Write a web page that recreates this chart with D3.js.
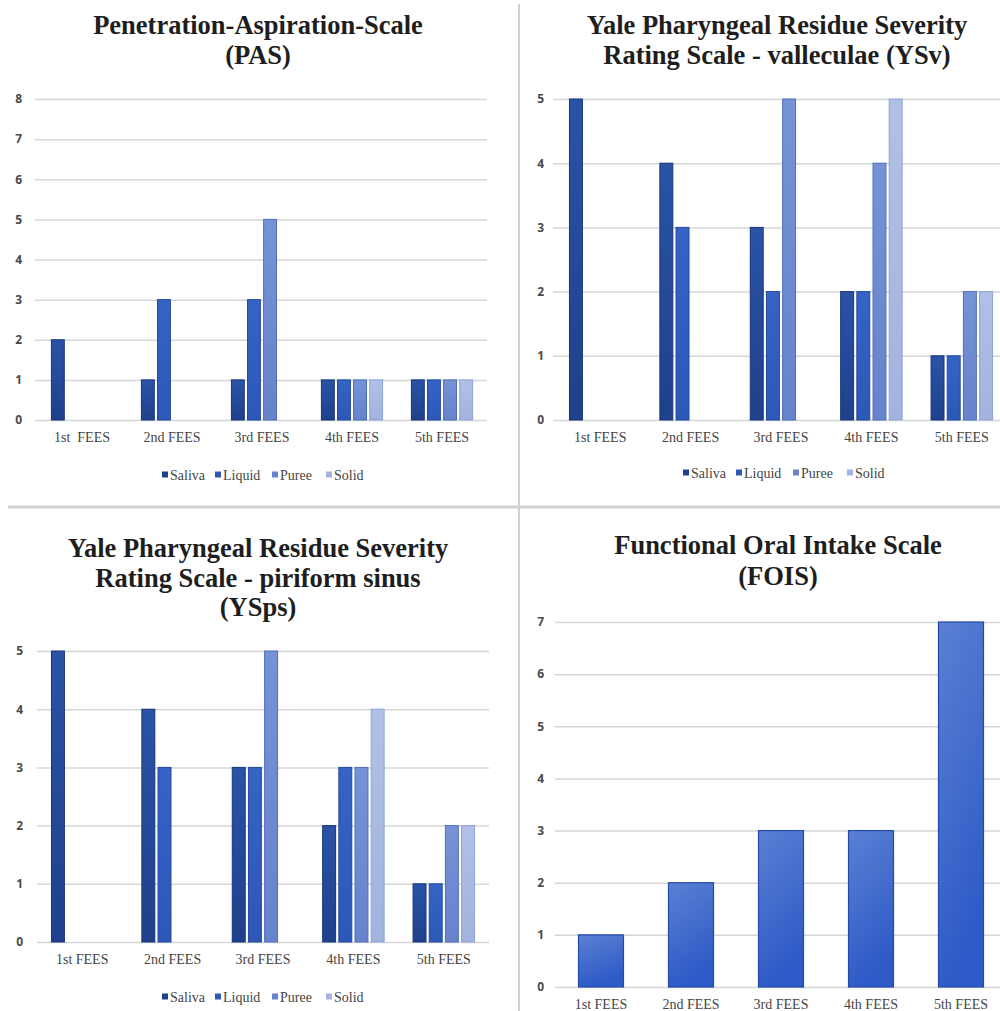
<!DOCTYPE html>
<html>
<head>
<meta charset="utf-8">
<script src="https://cdn.jsdelivr.net/npm/d3@7/dist/d3.min.js"></script>
<style>
  body { margin: 0; background: #fff; }
  svg { display: block; }
  .title { font-family: "Liberation Serif", "Times New Roman", serif; font-weight: bold; font-size: 26.5px; fill: #1e1e1e; }
  .ytick text { font-family: "Open Sans", sans-serif; font-weight: 700; font-size: 12px; fill: #4a4a4a; }
  .cat { font-family: "Liberation Serif", serif; font-size: 14px; fill: #444; }
  .leg { font-family: "Liberation Serif", serif; font-size: 14px; fill: #444; }
</style>
</head>
<body>
<div id="chart"></div>
<script>
//
// data
//
var categories = ["1st FEES", "2nd FEES", "3rd FEES", "4th FEES", "5th FEES"];
var series = ["Saliva", "Liquid", "Puree", "Solid"];

var pasSaliva = [2, 1, 1, 1, 1];
var pasLiquid = [0, 3, 3, 1, 1];
var pasPuree  = [0, 0, 5, 1, 1];
var pasSolid  = [0, 0, 0, 1, 1];

var ysvSaliva = [5, 4, 3, 2, 1];
var ysvLiquid = [0, 3, 2, 2, 1];
var ysvPuree  = [0, 0, 5, 4, 2];
var ysvSolid  = [0, 0, 0, 5, 2];

var yspsSaliva = [5, 4, 3, 2, 1];
var yspsLiquid = [0, 3, 3, 3, 1];
var yspsPuree  = [0, 0, 5, 3, 2];
var yspsSolid  = [0, 0, 0, 4, 2];

var foisValues = [1, 2, 3, 3, 7];

var pasTicks = [0, 1, 2, 3, 4, 5, 6, 7, 8];
var ysTicks = [0, 1, 2, 3, 4, 5];
var foisTicks = [0, 1, 2, 3, 4, 5, 6, 7];

// series colours: [top, bottom, edge]
var colors = {
  Saliva: ["#2a52a6", "#1f418c", "#17357a"],
  Liquid: ["#3664c4", "#2c58b8", "#2148a2"],
  Puree:  ["#7693d6", "#6683cc", "#4e6ebd"],
  Solid:  ["#b0c0e6", "#a2b3df", "#8ea3d6"]
};

var W = 1000, H = 1011;

var svg = d3.select("#chart").append("svg")
  .attr("width", W)
  .attr("height", H);

var defs = svg.append("defs");

series.forEach(function(s) {
  var g = defs.append("linearGradient").attr("id", "g-" + s)
    .attr("x1", 0).attr("y1", 0).attr("x2", 0).attr("y2", 1);
  g.append("stop").attr("offset", "0%").attr("stop-color", colors[s][0]);
  g.append("stop").attr("offset", "100%").attr("stop-color", colors[s][1]);
});
var fg = defs.append("linearGradient").attr("id", "g-fois")
  .attr("x1", 0).attr("y1", 0).attr("x2", 0.3).attr("y2", 1);
fg.append("stop").attr("offset", "0%").attr("stop-color", "#5b80d3");
fg.append("stop").attr("offset", "100%").attr("stop-color", "#2d5ac6");

// panel separators
svg.append("line")
  .attr("x1", 519).attr("x2", 519).attr("y1", 4).attr("y2", H)
  .attr("stroke", "#d2d2d2").attr("stroke-width", 2);
svg.append("line")
  .attr("x1", 8).attr("x2", W).attr("y1", 507).attr("y2", 507)
  .attr("stroke", "#d2d2d2").attr("stroke-width", 3);

//
// one panel: title, gridlines + left axis, bars, category labels, legend
//
function panel(p) {
  var g = svg.append("g");

  var x = d3.scaleBand().domain(categories).range([p.x0, p.x1]);
  var y = d3.scaleLinear().domain([0, d3.max(p.ticks)]).range([p.y0, p.y1]);
  var bw = x.bandwidth();

  // title
  p.title.forEach(function(t, i) {
    g.append("text").attr("class", "title")
      .attr("x", p.tx).attr("y", p.ty + i * p.tdy)
      .attr("text-anchor", "middle")
      .text(t);
  });

  // gridlines and tick labels
  var axis = d3.axisLeft(y).tickValues(p.ticks)
    .tickFormat(d3.format("d"))
    .tickSize(-(p.gx1 - p.gx0))
    .tickPadding(p.pad);
  var ax = g.append("g").attr("class", "ytick")
    .attr("transform", "translate(" + p.gx0 + ",0)")
    .call(axis);
  ax.select(".domain").remove();
  ax.selectAll(".tick line").attr("stroke", "#d6d6d6").attr("stroke-width", 1.5);

  // bars
  if (p.data) {
    var xs = d3.scaleBand().domain(series)
      .range([bw * 0.16, bw * 0.84]).paddingInner(0.2);
    categories.forEach(function(c, ci) {
      var rows = series.map(function(s, si) { return {s: s, v: p.data[si][ci]}; })
        .filter(function(d) { return d.v > 0; });
      g.selectAll(null).data(rows).enter().append("rect")
        .attr("x", function(d) { return x(c) + xs(d.s); })
        .attr("y", function(d) { return y(d.v); })
        .attr("width", xs.bandwidth())
        .attr("height", function(d) { return y(0) - y(d.v); })
        .attr("fill", function(d) { return "url(#g-" + d.s + ")"; })
        .attr("stroke", function(d) { return colors[d.s][2]; })
        .attr("stroke-width", 1);
    });
  } else {
    g.selectAll(null).data(p.single).enter().append("rect")
      .attr("x", function(d, i) { return x(categories[i]) + bw * 0.25; })
      .attr("y", function(d) { return y(d); })
      .attr("width", bw * 0.5)
      .attr("height", function(d) { return y(0) - y(d); })
      .attr("fill", "url(#g-fois)")
      .attr("stroke", "#2449a8")
      .attr("stroke-width", 1.2);
  }

  // category labels
  g.selectAll(null).data(categories).enter().append("text")
    .attr("class", "cat")
    .attr("x", function(d) { return x(d) + bw / 2; })
    .attr("y", p.cy)
    .attr("text-anchor", "middle")
    .text(function(d, i) { return (p.first && i == 0) ? p.first : d; });

  // legend
  if (p.ly) {
    var lx = [p.lx, p.lx + 53, p.lx + 110, p.lx + 164];
    series.forEach(function(s, i) {
      g.append("rect")
        .attr("x", lx[i]).attr("y", p.ly - 3.5)
        .attr("width", 6).attr("height", 6)
        .attr("fill", colors[s][1]);
      g.append("text").attr("class", "leg")
        .attr("x", lx[i] + 8).attr("y", p.ly + 5)
        .text(s);
    });
  }
}

panel({
  title: ["Penetration-Aspiration-Scale", "(PAS)"],
  tx: 258, ty: 34, tdy: 30,
  x0: 37, x1: 487, gx0: 35, gx1: 487, pad: 13,
  y0: 420, y1: 99, ticks: pasTicks,
  data: [pasSaliva, pasLiquid, pasPuree, pasSolid],
  cy: 442, first: "1st\u00a0\u00a0FEES",
  lx: 162, ly: 475
});

panel({
  title: ["Yale Pharyngeal Residue Severity", "Rating Scale - valleculae (YSv)"],
  tx: 777, ty: 34, tdy: 30,
  x0: 555, x1: 1007, gx0: 553, gx1: 1000, pad: 9,
  y0: 420, y1: 99, ticks: ysTicks,
  data: [ysvSaliva, ysvLiquid, ysvPuree, ysvSolid],
  cy: 442,
  lx: 683, ly: 473
});

panel({
  title: ["Yale Pharyngeal Residue Severity", "Rating Scale - piriform sinus", "(YSps)"],
  tx: 258, ty: 557, tdy: 29.5,
  x0: 37, x1: 489, gx0: 37, gx1: 489, pad: 14,
  y0: 942, y1: 651, ticks: ysTicks,
  data: [yspsSaliva, yspsLiquid, yspsPuree, yspsSolid],
  cy: 964,
  lx: 162, ly: 997
});

panel({
  title: ["Functional Oral Intake Scale", "(FOIS)"],
  tx: 778, ty: 554, tdy: 31,
  x0: 556, x1: 1006, gx0: 555, gx1: 1000, pad: 11,
  y0: 987, y1: 622, ticks: foisTicks,
  single: foisValues,
  cy: 1009
});
</script>
</body>
</html>
